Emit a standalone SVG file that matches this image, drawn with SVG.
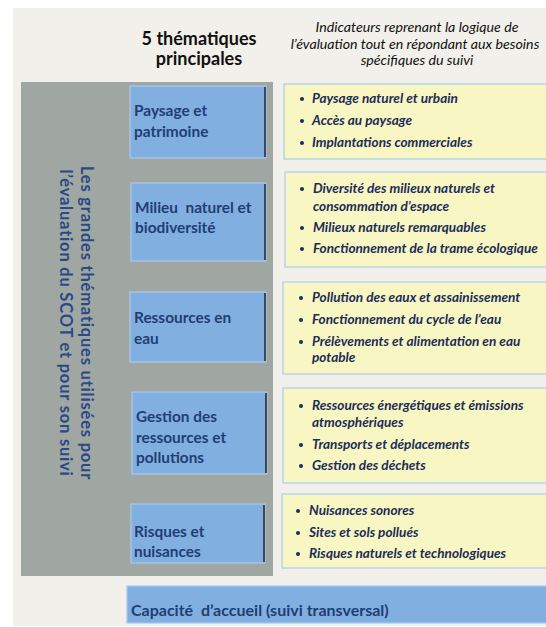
<svg xmlns="http://www.w3.org/2000/svg" width="546" height="627" viewBox="0 0 546 627">
<style>
.hdr{font-family:Lato,"Liberation Sans",sans-serif;font-weight:bold;font-size:18px;fill:#111;text-anchor:middle}
.hdri{font-family:Lato,"Liberation Sans",sans-serif;font-style:italic;font-size:14.2px;fill:#111;text-anchor:middle}
.theme rect.b{fill:#80afe0;stroke:#a9c9ee;stroke-width:1.2}
.theme line{stroke:#3c4856;stroke-width:2}
.lbl{font-family:Lato,"Liberation Sans",sans-serif;font-weight:bold;font-size:15.4px;fill:#1f3e74}
.cap{font-size:16px}
.ind rect{fill:#f8f6c2;stroke:#b9d3ea;stroke-width:1.5}
.it{font-family:Lato,"Liberation Sans",sans-serif;font-style:italic;font-weight:bold;font-size:13.6px;fill:#1c2c58}
.dot{fill:#1c2c58}
.vert{font-family:Lato,"Liberation Sans",sans-serif;font-weight:bold;font-size:16.5px;letter-spacing:0.8px;fill:#2a4a86;text-anchor:middle}
</style>
<rect x="0" y="0" width="546" height="627" fill="#ffffff"/>
<rect x="13" y="8" width="540" height="618" fill="#f2f0ea"/>
<g id="header">
<text class="hdr" x="199" y="45">5 thématiques</text>
<text class="hdr" x="199" y="65">principales</text>
<text class="hdri" x="417" y="32">Indicateurs reprenant la logique de</text>
<text class="hdri" x="415" y="49">l’évaluation tout en répondant aux besoins</text>
<text class="hdri" x="417" y="65">spécifiques du suivi</text>
</g>
<g id="panel">
<rect x="21" y="82" width="252" height="494" fill="#a0a7a2"/>
<text class="vert" transform="translate(81,323) rotate(90)" x="0" y="0">Les grandes thématiques utilisées pour</text>
<text class="vert" transform="translate(60,323) rotate(90)" x="0" y="0">l’évaluation du SCOT et pour son suivi</text>
</g>
<g id="connectors"></g>
<g id="theme1" class="theme">
<rect class="b" x="130" y="86" width="136" height="72"/><line x1="265" y1="87" x2="265" y2="157"/>
<text class="lbl" x="134" y="116">Paysage et</text><text class="lbl" x="134" y="137">patrimoine</text>
</g>
<g id="theme2" class="theme">
<rect class="b" x="131" y="183" width="135" height="78"/><line x1="265" y1="184" x2="265" y2="260"/>
<text class="lbl" x="135" y="213" xml:space="preserve">Milieu  naturel et</text><text class="lbl" x="135" y="233">biodiversité</text>
</g>
<g id="theme3" class="theme">
<rect class="b" x="130" y="292" width="136" height="70"/><line x1="265" y1="293" x2="265" y2="361"/>
<text class="lbl" x="134" y="323">Ressources en</text><text class="lbl" x="134" y="344">eau</text>
</g>
<g id="theme4" class="theme">
<rect class="b" x="132" y="392" width="135" height="82"/><line x1="266" y1="393" x2="266" y2="473"/>
<text class="lbl" x="136" y="422">Gestion des</text><text class="lbl" x="136" y="443">ressources et</text><text class="lbl" x="136" y="463">pollutions</text>
</g>
<g id="theme5" class="theme">
<rect class="b" x="131" y="504" width="134" height="59"/><line x1="264" y1="505" x2="264" y2="562"/>
<text class="lbl" x="134" y="537">Risques et</text><text class="lbl" x="134" y="557">nuisances</text>
</g>
<g id="ind1" class="ind">
<rect x="284" y="84" width="270" height="75"/>
<circle class="dot" cx="302" cy="99" r="2"/><text class="it" x="312" y="103">Paysage naturel et urbain</text>
<circle class="dot" cx="302" cy="121" r="2"/><text class="it" x="312" y="125">Accès au paysage</text>
<circle class="dot" cx="302" cy="143" r="2"/><text class="it" x="312" y="147">Implantations commerciales</text>
</g>
<g id="ind2" class="ind">
<rect x="285" y="172" width="270" height="95"/>
<circle class="dot" cx="302" cy="189" r="2"/><text class="it" x="313" y="193">Diversité des milieux naturels et</text>
<text class="it" x="313" y="211">consommation d’espace</text>
<circle class="dot" cx="302" cy="228" r="2"/><text class="it" x="313" y="232">Milieux naturels remarquables</text>
<circle class="dot" cx="302" cy="249" r="2"/><text class="it" x="313" y="253">Fonctionnement de la trame écologique</text>
</g>
<g id="ind3" class="ind">
<rect x="283" y="282" width="270" height="92"/>
<circle class="dot" cx="301" cy="298" r="2"/><text class="it" x="312" y="302">Pollution des eaux et assainissement</text>
<circle class="dot" cx="301" cy="320" r="2"/><text class="it" x="312" y="324">Fonctionnement du cycle de l’eau</text>
<circle class="dot" cx="301" cy="342" r="2"/><text class="it" x="312" y="346">Prélèvements et alimentation en eau</text>
<text class="it" x="312" y="362">potable</text>
</g>
<g id="ind4" class="ind">
<rect x="283" y="388" width="270" height="95"/>
<circle class="dot" cx="301" cy="406" r="2"/><text class="it" x="312" y="410">Ressources énergétiques et émissions</text>
<text class="it" x="312" y="427">atmosphériques</text>
<circle class="dot" cx="301" cy="445" r="2"/><text class="it" x="312" y="449">Transports et déplacements</text>
<circle class="dot" cx="301" cy="466" r="2"/><text class="it" x="312" y="470">Gestion des déchets</text>
</g>
<g id="ind5" class="ind">
<rect x="282" y="494" width="270" height="74"/>
<circle class="dot" cx="298" cy="511" r="2"/><text class="it" x="309" y="515">Nuisances sonores</text>
<circle class="dot" cx="298" cy="533" r="2"/><text class="it" x="309" y="537">Sites et sols pollués</text>
<circle class="dot" cx="298" cy="554" r="2"/><text class="it" x="309" y="558">Risques naturels et technologiques</text>
</g>
<g id="capacite" class="theme">
<rect class="b" x="127" y="586" width="430" height="37"/>
<text class="lbl cap" x="131" y="616" xml:space="preserve">Capacité  d’accueil (suivi transversal)</text>
</g>
</svg>
